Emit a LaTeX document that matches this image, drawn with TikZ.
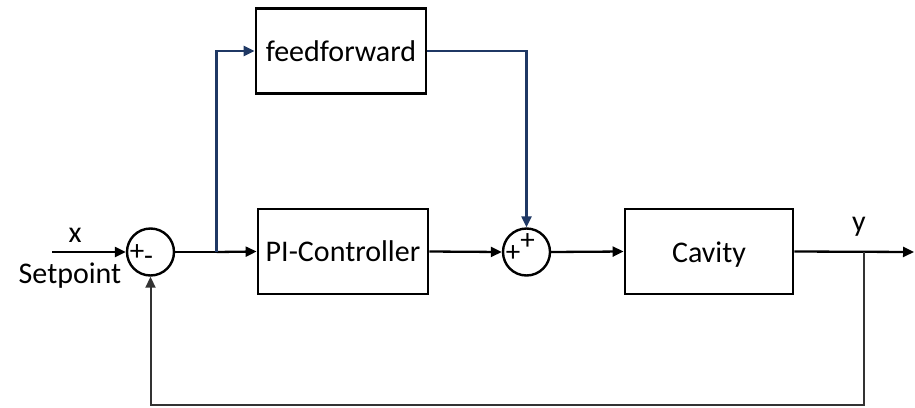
\documentclass[tikz,border=0pt]{standalone}
\usepackage{fontspec}
\setmainfont{Carlito}
\usetikzlibrary{arrows.meta}
\definecolor{ffblue}{RGB}{31,56,100}
\begin{document}
\begin{tikzpicture}[x=1pt,y=-1pt,
  blockbox/.style={draw,line width=2.8pt,minimum width=170pt,minimum height=85pt,inner sep=0pt,font=\fontsize{30}{34}\selectfont},
  sumnode/.style={draw,circle,line width=2.4pt,minimum size=47pt,inner sep=0pt},
  sig/.style={line width=2.3pt,-{Triangle[length=11pt,width=10pt]}},
  ffsig/.style={sig,draw=ffblue,line width=2.3pt},
  lbl/.style={font=\fontsize{30}{34}\selectfont,inner sep=0pt},
  sgn/.style={font=\fontsize{29}{30}\selectfont,inner sep=0pt}]
\useasboundingbox (0,0) rectangle (915,407);
% blocks
\node[blockbox] (ff) at (341,51) {feedforward};
\node[blockbox] (pi) at (343,251.5) {PI-Controller};
\node[blockbox,minimum width=168pt] (cav) at (709,251.5) {};
\node[lbl] (cavtext) at ([yshift=-3pt]cav.center) {Cavity};
% summing junctions
\node[sumnode] (s1) at (150.5,252) {};
\node[sumnode] (s2) at (526.5,252) {};
\node[sgn] at (137,252.5) {+};
\node[sgn] at (148.5,261) {-};
\node[sgn] at (513,253.5) {+};
\node[sgn] at (527.5,242) {+};
% helper points
\coordinate (in) at (52,252);
\coordinate (br) at (216.5,252);
\coordinate (out) at (914,252);
\coordinate (yb) at (864,252);
\coordinate (fb) at (864,405);
% labels
\node[lbl] at (75,235) {x};
\node[lbl] at (70,276) {Setpoint};
\node[lbl] at (859,227) {y};
% signal paths
\draw[sig] (in) -- (s1.west);
\draw[line width=2.3pt] (s1.east) -- (br);
\draw[sig] (br) -- (pi.west);
\draw[sig] (pi.east) -- (s2.west);
\draw[sig] (s2.east) -- (cav.west);
\draw[sig] (cav.east) -- (out);
\draw[ffsig] (br) |- (ff.west);
\draw[ffsig] (ff.east) -| (s2.north);
\draw[sig,line width=2pt,draw=black!80] (yb) -- (fb) -| (s1.south);
\end{tikzpicture}
\end{document}
